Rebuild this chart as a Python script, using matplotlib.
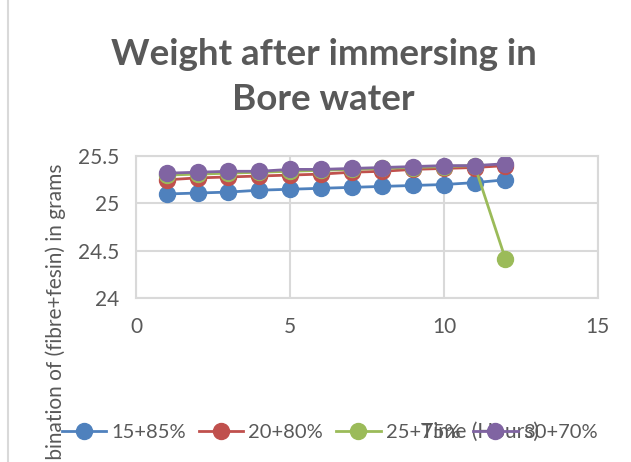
import matplotlib.pyplot as plt
from matplotlib.lines import Line2D

plt.rcParams['font.family'] = ['Lato', 'DejaVu Sans']

hours = [1, 2, 3, 4, 5, 6, 7, 8, 9, 10, 11, 12]
s15 = [25.10, 25.11, 25.12, 25.14, 25.15, 25.16, 25.17, 25.18, 25.19, 25.20, 25.22, 25.25]
s20 = [25.25, 25.27, 25.28, 25.29, 25.30, 25.31, 25.33, 25.34, 25.36, 25.37, 25.38, 25.40]
s25 = [25.30, 25.31, 25.32, 25.33, 25.34, 25.35, 25.36, 25.37, 25.38, 25.39, 25.40, 24.41]
s30 = [25.32, 25.33, 25.34, 25.34, 25.36, 25.36, 25.37, 25.38, 25.39, 25.40, 25.40, 25.42]
labels = ['15+85%', '20+80%', '25+75%', '30+70%']
colors = ['#4F81BD', '#C0504D', '#9BBB59', '#8064A2']

txt = '#595959'
grid = '#D9D9D9'

fig = plt.figure(figsize=(6.31, 4.62), dpi=100)
ax = fig.add_axes([0.2155, 0.355, 0.732, 0.307])

handles = []
for vals, lab, c in zip([s15, s20, s25, s30], labels, colors):
    h, = ax.plot(hours, vals, color=c, lw=2, marker='o', ms=11.5,
                 markeredgecolor=c, label=lab)
    handles.append(h)

ax.set_xlim(0, 15)
ax.set_ylim(24, 25.5)
ax.set_xticks([0, 5, 10, 15])
ax.set_yticks([24, 24.5, 25, 25.5])
ax.set_yticklabels(['24', '24.5', '25', '25.5'])
ax.grid(True, color=grid, lw=1.5)
ax.set_axisbelow(True)
for sp in ax.spines.values():
    sp.set_color(grid)
    sp.set_linewidth(1.5)
ax.tick_params(length=0, labelsize=15, colors=txt)
ax.tick_params(axis='x', pad=14)
ax.tick_params(axis='y', pad=12)

fig.text(0.513, 1 - 77 / 462, 'Weight after immersing in\nBore water', ha='center', va='center',
         fontsize=26.5, fontweight='bold', color=txt, linespacing=1.45)

fig.legend(handles=handles, labels=labels, loc='center left', ncol=4, frameon=False,
           bbox_to_anchor=(62 / 631, 1 - 432 / 462), fontsize=14.5, labelcolor=txt,
           handlelength=2.2, columnspacing=0.65, handletextpad=0.25, borderpad=0,
           borderaxespad=0)

fig.text(480 / 631, 1 - 432 / 462, 'Time (Hours)', ha='center', va='center',
         fontsize=15, color=txt)

fig.text(56 / 631, 1 - 163 / 462, 'Weight of combination of (fibre+fesin) in grams',
         rotation=90, rotation_mode='anchor', ha='right', va='center',
         fontsize=15, color=txt)

fig.add_artist(Line2D([8 / 631, 8 / 631], [0, 1], color=grid, lw=1.5))

fig.savefig('out.png', dpi=100)
